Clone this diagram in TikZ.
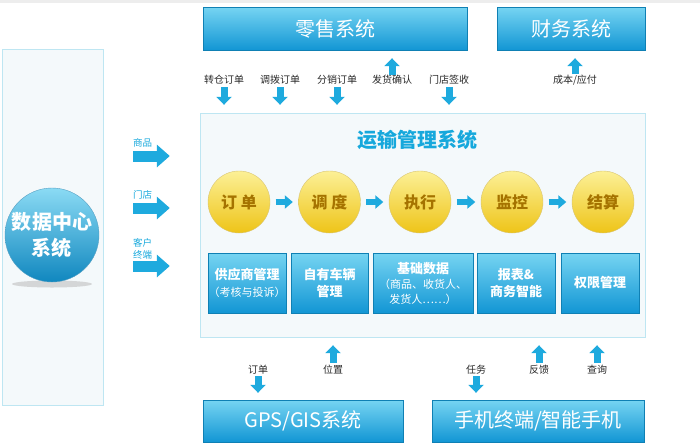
\documentclass[tikz,border=0pt]{standalone}
\usepackage{fontspec}
\setmainfont{Noto Sans CJK SC}
\usetikzlibrary{arrows.meta, positioning, calc}
\definecolor{skyblue}{RGB}{30,170,222}
\definecolor{boxtop}{RGB}{118,212,242}
\definecolor{boxbot}{RGB}{18,150,212}
\definecolor{panelfill}{RGB}{244,249,251}
\definecolor{panelline}{RGB}{190,230,242}
\definecolor{ylwtop}{RGB}{252,240,150}
\definecolor{ylwbot}{RGB}{238,196,24}
\definecolor{ylwtext}{RGB}{165,115,0}
\definecolor{titleblue}{RGB}{22,168,220}
\definecolor{lbltext}{RGB}{40,40,40}

\begin{document}
\begin{tikzpicture}[x=1pt, y=-1pt,
  sysbox/.style={rectangle, draw=boxbot!85!black, top color=boxtop, bottom color=boxbot,
                 text=white, inner sep=0pt, font=\fontsize{20}{22}\selectfont},
  modbox/.style={rectangle, draw=boxbot!85!black, top color=boxtop, bottom color=boxbot,
                 text=white, inner sep=0pt, align=center, minimum height=60pt,
                 font=\bfseries\fontsize{13}{17}\selectfont},
  ylw/.style={circle, draw=ylwbot!80!black!60, top color=ylwtop, bottom color=ylwbot,
              minimum size=62pt, inner sep=0pt, text=ylwtext,
              font=\bfseries\fontsize{16}{18}\selectfont},
  panel/.style={rectangle, draw=panelline, fill=panelfill, inner sep=0pt},
  lbl/.style={inner sep=0pt, text=lbltext, font=\fontsize{10}{12}\selectfont},
  sidelbl/.style={inner sep=0pt, anchor=west, align=left, text=titleblue,
                  font=\fontsize{9.5}{12}\selectfont},
  vflow/.style={draw=skyblue, line width=7pt, -{Triangle[width=15pt, length=8pt]}},
  hflow/.style={draw=skyblue, line width=6pt, -{Triangle[width=13pt, length=8pt]},
                shorten <=5.5pt, shorten >=5.5pt},
  side/.style={draw=skyblue, line width=11pt, -{Triangle[width=22pt, length=13pt]},
               shorten <=30pt, shorten >=30pt}
]
\useasboundingbox (0,0) rectangle (700,442);
\fill[black!7] (0,0) rectangle (700,3);
%% panels
\node[panel, minimum width=101pt, minimum height=356pt] (dcpanel) at (52.5,227) {};
\node[panel, minimum width=445pt, minimum height=224pt] (tms) at (422.5,225) {};
\node[font=\bfseries\fontsize{20}{22}\selectfont, text=titleblue] (title) at (417,140) {运输管理系统};
%% data center
\fill[black!25, opacity=0.6] (52,284) ellipse (40pt and 3.5pt);
\node[circle, minimum size=94pt, inner sep=0pt, draw=boxbot!80!black!70,
      top color=boxtop!85, bottom color=boxbot!90!black, text=white, align=center,
      font=\bfseries\fontsize{20}{26}\selectfont] (dc) at (52,235) {数据中心\\系统};
%% external systems
\node[sysbox, minimum width=264pt, minimum height=43pt] (retail) at (335,28.5) {零售系统};
\node[sysbox, minimum width=148pt, minimum height=43pt] (finance) at (571,28.5) {财务系统};
\node[sysbox, minimum width=200pt, minimum height=42pt] (gps) at (303,421) {GPS/GIS系统};
\node[sysbox, minimum width=212pt, minimum height=42pt] (mobile) at (538,421) {手机终端/智能手机};
%% process circles
\node[ylw] (c1) at (239,202) {订 单};
\node[ylw] (c2) at (329.5,202) {调 度};
\node[ylw] (c3) at (420,202) {执行};
\node[ylw] (c4) at (512,202) {监控};
\node[ylw] (c5) at (603,202) {结算};
\foreach \a/\b in {c1/c2, c2/c3, c3/c4, c4/c5}
  \draw[hflow] (\a) -- (\b);
%% modules
\node[modbox, minimum width=78pt] (m1) at (247,283) {供应商管理\\{\mdseries\fontsize{11}{20}\selectfont（考核与投诉）}};
\node[modbox, minimum width=77pt] (m2) at (329.5,283) {自有车辆\\管理};
\node[modbox, minimum width=100pt, font=\bfseries\fontsize{13}{15}\selectfont] (m3) at (423,283)
  {基础数据\\{\mdseries\fontsize{11}{15}\selectfont（商品、收货人、}\\{\mdseries\fontsize{11}{13}\selectfont 发货人……）}};
\node[modbox, minimum width=78pt] (m4) at (516,283) {报表\&\\商务智能};
\node[modbox, minimum width=78pt] (m5) at (600,283) {权限管理};
%% top labels
\node[lbl] (t1) at (224,80) {转仓订单};
\node[lbl] (t2) at (280,80) {调拨订单};
\node[lbl] (t3) at (337,80) {分销订单};
\node[lbl] (t4) at (392,80) {发货确认};
\node[lbl] (t5) at (449,80) {门店签收};
\node[lbl] (t6) at (575,80) {成本/应付};
\foreach \t in {t1, t2, t3, t5}
  \draw[vflow, shorten <=2.5pt, shorten >=8pt] (\t.south) -- (\t.south |- tms.north);
\draw[vflow, shorten <=0.5pt, shorten >=8pt] (t4.north) -- (t4.north |- retail.south);
\draw[vflow, shorten <=0.5pt, shorten >=8pt] (t6.north) -- (t6.north |- finance.south);
%% bottom labels
\node[lbl] (u1) at (258,370) {订单};
\node[lbl] (u2) at (333,370) {位置};
\node[lbl] (u3) at (476,370) {任务};
\node[lbl] (u4) at (539,370) {反馈};
\node[lbl] (u5) at (597,370) {查询};
\draw[vflow, shorten <=1.5pt, shorten >=7pt] (u1.south) -- (u1.south |- gps.north);
\draw[vflow, shorten <=1.5pt, shorten >=7pt] (u3.south) -- (u3.south |- mobile.north);
\foreach \u in {u2, u4, u5}
  \draw[vflow, shorten <=2.5pt, shorten >=8pt] (\u.north) -- (\u.north |- tms.south);
%% side labels
\node[sidelbl] (s1) at (133,143) {商品};
\node[sidelbl] (s2) at (133,195) {门店};
\node[sidelbl] (s3) at (133,249) {客户\\终端};
\coordinate (r1) at (0,156);
\coordinate (r2) at (0,208);
\coordinate (r3) at (0,266);
\foreach \r in {r1, r2, r3}
  \draw[side] (dcpanel.east |- \r) -- (tms.west |- \r);
\end{tikzpicture}
\end{document}
